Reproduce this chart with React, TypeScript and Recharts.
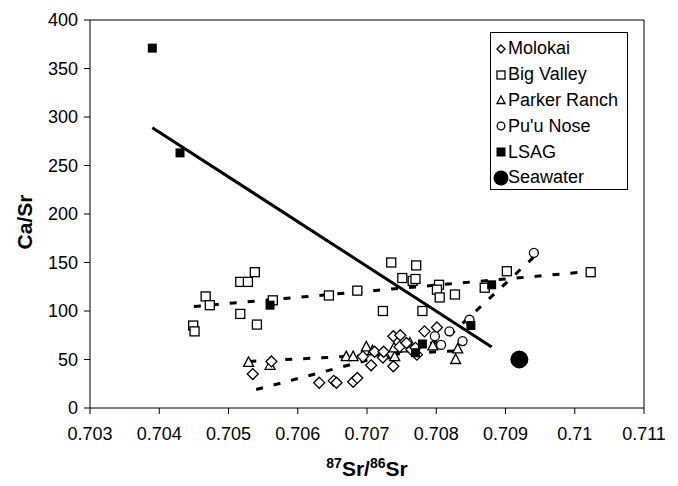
import { ScatterChart, Scatter, XAxis, YAxis, ReferenceLine, Legend } from "recharts";

const xTicks = [0.703, 0.704, 0.705, 0.706, 0.707, 0.708, 0.709, 0.71, 0.711];
const yTicks = [0, 50, 100, 150, 200, 250, 300, 350, 400];

const molokai = [
  { x: 0.70535, y: 35 }, { x: 0.70562, y: 48 }, { x: 0.70631, y: 26 }, { x: 0.70652, y: 28 },
  { x: 0.70656, y: 26 }, { x: 0.7068, y: 27 }, { x: 0.70686, y: 31 }, { x: 0.70694, y: 53 },
  { x: 0.70706, y: 44 }, { x: 0.70711, y: 58 }, { x: 0.70723, y: 52 }, { x: 0.70724, y: 58 },
  { x: 0.70738, y: 43 }, { x: 0.70738, y: 74 }, { x: 0.70747, y: 63 }, { x: 0.70748, y: 75 },
  { x: 0.70757, y: 67 }, { x: 0.70764, y: 60 }, { x: 0.7077, y: 62 }, { x: 0.70772, y: 55 },
  { x: 0.70783, y: 79 }, { x: 0.70801, y: 83 },
];

const bigValley = [
  { x: 0.70449, y: 85 }, { x: 0.70451, y: 79 }, { x: 0.70467, y: 115 }, { x: 0.70473, y: 106 },
  { x: 0.70517, y: 130 }, { x: 0.70528, y: 130 }, { x: 0.70538, y: 140 }, { x: 0.70517, y: 97 },
  { x: 0.70541, y: 86 }, { x: 0.70564, y: 111 }, { x: 0.70645, y: 116 }, { x: 0.70686, y: 121 },
  { x: 0.70735, y: 150 }, { x: 0.70723, y: 100 }, { x: 0.70771, y: 147 }, { x: 0.70751, y: 134 },
  { x: 0.70766, y: 131 }, { x: 0.7077, y: 133 }, { x: 0.7078, y: 100 }, { x: 0.70804, y: 127 },
  { x: 0.70801, y: 122 }, { x: 0.70805, y: 114 }, { x: 0.70827, y: 117 }, { x: 0.7087, y: 124 },
  { x: 0.70902, y: 141 }, { x: 0.71023, y: 140 },
];

const parkerRanch = [
  { x: 0.70529, y: 47 }, { x: 0.7056, y: 44 }, { x: 0.7067, y: 53 }, { x: 0.7068, y: 53 },
  { x: 0.70699, y: 63 }, { x: 0.70708, y: 59 }, { x: 0.70726, y: 55 }, { x: 0.7074, y: 53 },
  { x: 0.70739, y: 62 }, { x: 0.70754, y: 62 }, { x: 0.70762, y: 67 }, { x: 0.70795, y: 64 },
  { x: 0.70831, y: 61 }, { x: 0.70828, y: 50 },
];

const puuNose = [
  { x: 0.70798, y: 74 }, { x: 0.70807, y: 65 }, { x: 0.70819, y: 79 }, { x: 0.70838, y: 69 },
  { x: 0.70848, y: 91 }, { x: 0.70941, y: 160 },
];

const lsag = [
  { x: 0.7039, y: 371 }, { x: 0.7043, y: 263 }, { x: 0.7056, y: 106 }, { x: 0.7077, y: 57 },
  { x: 0.7078, y: 66 }, { x: 0.7085, y: 85 }, { x: 0.7088, y: 127 },
];

const seawater = [{ x: 0.7092, y: 50 }];

// trend lines, end points
const lsagFit = [{ x: 0.7039, y: 289 }, { x: 0.7088, y: 63 }];
const bigValleyFit = [{ x: 0.7045, y: 104.6 }, { x: 0.7102, y: 140.6 }];
const parkerFit = [{ x: 0.7053, y: 48 }, { x: 0.7083, y: 59 }];
const molokaiFit = [{ x: 0.7054, y: 19 }, { x: 0.7081, y: 70 }];
const puuNoseFit = [{ x: 0.708, y: 62 }, { x: 0.7094, y: 155 }];

const font = "'Liberation Sans', Arial, sans-serif";

const Diamond = ({ cx, cy }: any) => (
  <polygon
    points={`${cx},${cy - 5.5} ${cx + 5.5},${cy} ${cx},${cy + 5.5} ${cx - 5.5},${cy}`}
    fill="#fff" stroke="#000" strokeWidth={1.3}
  />
);
const Square = ({ cx, cy }: any) => (
  <rect x={cx - 4.5} y={cy - 4.5} width={9} height={9} fill="#fff" stroke="#000" strokeWidth={1.3} />
);
const Triangle = ({ cx, cy }: any) => (
  <polygon
    points={`${cx},${cy - 5.5} ${cx + 5},${cy + 4} ${cx - 5},${cy + 4}`}
    fill="#fff" stroke="#000" strokeWidth={1.3}
  />
);
const Ring = ({ cx, cy }: any) => <circle cx={cx} cy={cy} r={4.5} fill="#fff" stroke="#000" strokeWidth={1.3} />;
const Block = ({ cx, cy }: any) => <rect x={cx - 4.5} y={cy - 4.5} width={9} height={9} fill="#000" />;
const Dot = ({ cx, cy }: any) => <circle cx={cx} cy={cy} r={9} fill="#000" />;
const NoMark = () => <g />;

const legendItems = [
  { name: "Molokai", icon: "diamond" },
  { name: "Big Valley", icon: "square" },
  { name: "Parker Ranch", icon: "triangle" },
  { name: "Pu'u Nose", icon: "circle" },
  { name: "LSAG", icon: "block" },
  { name: "Seawater", icon: "dot" },
];

function LegendIcon({ icon }: { icon: string }) {
  const c = 8;
  return (
    <svg width={16} height={16} style={{ display: "block" }}>
      {icon === "diamond" && <polygon points={`${c},${c - 4} ${c + 4},${c} ${c},${c + 4} ${c - 4},${c}`} fill="#fff" stroke="#000" strokeWidth={1.3} />}
      {icon === "square" && <rect x={c - 4} y={c - 4} width={8} height={8} fill="#fff" stroke="#000" strokeWidth={1.3} />}
      {icon === "triangle" && <polygon points={`${c},${c - 4} ${c + 4},${c + 3.5} ${c - 4},${c + 3.5}`} fill="#fff" stroke="#000" strokeWidth={1.3} />}
      {icon === "circle" && <circle cx={c} cy={c} r={3.8} fill="#fff" stroke="#000" strokeWidth={1.3} />}
      {icon === "block" && <rect x={c - 4.5} y={c - 4.5} width={9} height={9} fill="#000" />}
      {icon === "dot" && <circle cx={c} cy={c} r={7.5} fill="#000" />}
    </svg>
  );
}

const renderLegend = () => (
  <div
    style={{
      border: "1px solid #000",
      background: "#fff",
      width: 138,
      height: 158,
      boxSizing: "border-box",
      padding: "3px 0 0 2px",
      fontFamily: font,
      fontSize: 18,
      color: "#000",
    }}
  >
    {legendItems.map((it) => (
      <div key={it.name} style={{ display: "flex", alignItems: "center", height: 25.8, whiteSpace: "nowrap" }}>
        <LegendIcon icon={it.icon} />
        <span style={{ marginLeft: -1 }}>{it.name}</span>
      </div>
    ))}
  </div>
);

const XTitle = ({ viewBox }: any) => {
  const cx = viewBox.x + viewBox.width / 2;
  return (
    <text x={cx} y={476} textAnchor="middle" fontFamily={font} fontWeight="bold" fontSize={21} fill="#000">
      <tspan fontSize={14} dy={-8}>87</tspan>
      <tspan dy={8}>Sr/</tspan>
      <tspan fontSize={14} dy={-8}>86</tspan>
      <tspan dy={8}>Sr</tspan>
    </text>
  );
};

const YTitle = ({ viewBox }: any) => {
  const cy = viewBox.y + viewBox.height / 2 + 8;
  return (
    <text x={32} y={cy} transform={`rotate(-90 32 ${cy})`} textAnchor="middle" fontFamily={font} fontWeight="bold" fontSize={21} fill="#000">
      Ca/Sr
    </text>
  );
};

const lineStyle = { stroke: "#000", strokeWidth: 3 };
const dashStyle = { stroke: "#000", strokeWidth: 3, strokeDasharray: "7 11" };

export default function App() {
  return (
    <div style={{ position: "absolute", left: 0, top: 0, width: 678, height: 486, background: "#fff" }}>
      <ScatterChart width={678} height={486} margin={{ top: 20, right: 34, bottom: 0, left: 0 }}>
        <XAxis
          type="number"
          dataKey="x"
          domain={[0.703, 0.711]}
          ticks={xTicks}
          allowDataOverflow
          height={78}
          tickSize={6}
          tickMargin={13}
          axisLine={{ stroke: "#000", strokeWidth: 1 }}
          tickLine={{ stroke: "#000" }}
          tick={{ fill: "#000", fontSize: 18, fontFamily: font }}
          label={<XTitle />}
        />
        <YAxis
          type="number"
          dataKey="y"
          domain={[0, 400]}
          ticks={yTicks}
          width={90}
          tickSize={6}
          tickMargin={6}
          axisLine={{ stroke: "#000", strokeWidth: 1 }}
          tickLine={{ stroke: "#000" }}
          tick={{ fill: "#000", fontSize: 18, fontFamily: font }}
          label={<YTitle />}
        />
        <ReferenceLine y={400} stroke="#000" strokeWidth={1} />
        <ReferenceLine x={0.711} stroke="#000" strokeWidth={1} />

        <Scatter data={bigValleyFit} line={dashStyle} shape={NoMark} legendType="none" isAnimationActive={false} />
        <Scatter data={parkerFit} line={dashStyle} shape={NoMark} legendType="none" isAnimationActive={false} />
        <Scatter data={molokaiFit} line={dashStyle} shape={NoMark} legendType="none" isAnimationActive={false} />
        <Scatter data={puuNoseFit} line={dashStyle} shape={NoMark} legendType="none" isAnimationActive={false} />
        <Scatter data={lsagFit} line={lineStyle} shape={NoMark} legendType="none" isAnimationActive={false} />

        <Scatter name="Big Valley" data={bigValley} shape={Square} isAnimationActive={false} />
        <Scatter name="Parker Ranch" data={parkerRanch} shape={Triangle} isAnimationActive={false} />
        <Scatter name="Molokai" data={molokai} shape={Diamond} isAnimationActive={false} />
        <Scatter name="Pu'u Nose" data={puuNose} shape={Ring} isAnimationActive={false} />
        <Scatter name="LSAG" data={lsag} shape={Block} isAnimationActive={false} />
        <Scatter name="Seawater" data={seawater} shape={Dot} isAnimationActive={false} />

        <Legend
          layout="vertical"
          align="center"
          verticalAlign="middle"
          content={renderLegend}
          wrapperStyle={{ position: "absolute", left: 490, top: 32, width: 138, height: 158 }}
        />
      </ScatterChart>
    </div>
  );
}
